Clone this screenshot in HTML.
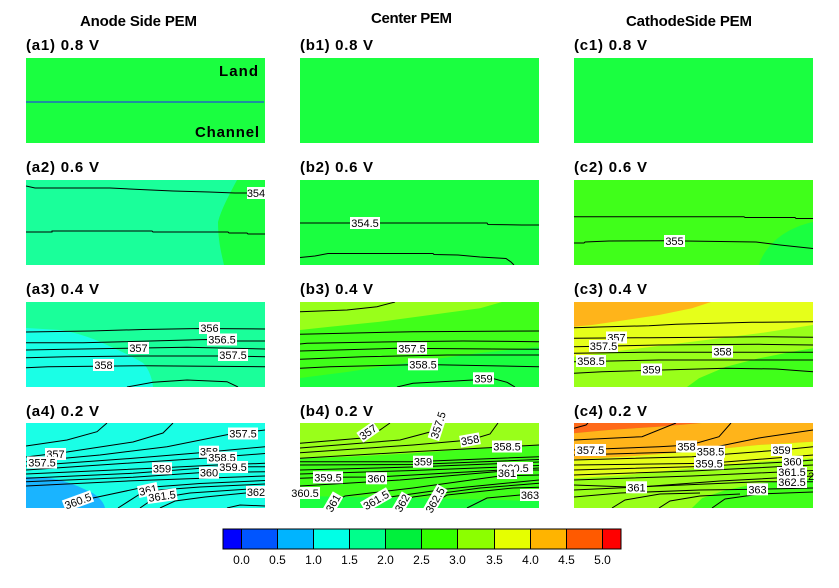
<!DOCTYPE html>
<html><head><meta charset="utf-8"><style>
html,body{margin:0;padding:0;background:#fff;}
svg{display:block;font-family:"Liberation Sans",Arial,sans-serif;}
.t{font-weight:bold;font-size:15px;fill:#000;}
.pl{font-weight:bold;font-size:15px;fill:#000;}
.ln{fill:none;stroke:#000;stroke-width:1;}
.lb{font-size:11px;fill:#000;text-anchor:middle;}
.cb{font-size:12px;fill:#000;text-anchor:middle;}
</style></head><body>
<svg width="839" height="588" viewBox="0 0 839 588" xmlns="http://www.w3.org/2000/svg">
<defs>
<clipPath id="ca2"><rect x="26" y="180" width="239" height="85"/></clipPath>
<clipPath id="cb2"><rect x="300" y="180" width="239" height="85"/></clipPath>
<clipPath id="cc2"><rect x="574" y="180" width="239" height="85"/></clipPath>
<clipPath id="ca3"><rect x="26" y="302" width="239" height="85"/></clipPath>
<clipPath id="cb3"><rect x="300" y="302" width="239" height="85"/></clipPath>
<clipPath id="cc3"><rect x="574" y="302" width="239" height="85"/></clipPath>
<clipPath id="ca4"><rect x="26" y="423" width="239" height="85"/></clipPath>
<clipPath id="cb4"><rect x="300" y="423" width="239" height="85"/></clipPath>
<clipPath id="cc4"><rect x="574" y="423" width="239" height="85"/></clipPath>
</defs>

<!-- Titles -->
<text class="t" x="80" y="26" textLength="117" lengthAdjust="spacing">Anode Side PEM</text>
<text class="t" x="371" y="23" textLength="81" lengthAdjust="spacing">Center PEM</text>
<text class="t" x="626" y="26" textLength="126" lengthAdjust="spacing">CathodeSide PEM</text>

<!-- Row 1 -->
<text class="pl" x="26" y="50" textLength="73" lengthAdjust="spacing">(a1) 0.8 V</text>
<text class="pl" x="300" y="50" textLength="73" lengthAdjust="spacing">(b1) 0.8 V</text>
<text class="pl" x="574" y="50" textLength="73" lengthAdjust="spacing">(c1) 0.8 V</text>
<rect x="26" y="58" width="239" height="85" fill="#1aff40"/>
<line x1="26" y1="102" x2="264" y2="102" stroke="#2020ff" stroke-width="1"/>
<text class="pl" x="219" y="76" font-size="16" textLength="39" lengthAdjust="spacing">Land</text>
<text class="pl" x="195" y="137" font-size="16" textLength="64" lengthAdjust="spacing">Channel</text>
<rect x="300" y="58" width="239" height="85" fill="#1aff40"/>
<rect x="574" y="58" width="239" height="85" fill="#1aff40"/>

<!-- Row 2 -->
<text class="pl" x="26" y="172" textLength="73" lengthAdjust="spacing">(a2) 0.6 V</text>
<text class="pl" x="300" y="172" textLength="73" lengthAdjust="spacing">(b2) 0.6 V</text>
<text class="pl" x="574" y="172" textLength="73" lengthAdjust="spacing">(c2) 0.6 V</text>

<g clip-path="url(#ca2)">
<rect x="26" y="180" width="239" height="85" fill="#1aff9a"/>
<path d="M237,180 L265,180 L265,265 L224,265 C221,252 218,240 218,222 C221,210 229,195 237,180 Z" fill="#1aff40"/>
<path class="ln" d="M26,186 L35,188 L110,188 L140,189.5 L173,191 L209,192 L235,193 L265,193"/>
<path class="ln" d="M26,232 L52,232 L52,231 L152,231 L153,232 L228,232 L229,233 L247,233 L248,234 L265,234"/>
</g>
<rect x="247" y="187" width="18" height="12" fill="#fff"/><text class="lb" x="256" y="197">354</text>

<g clip-path="url(#cb2)">
<rect x="300" y="180" width="239" height="85" fill="#1aff40"/>
<path class="ln" d="M300,223 L487,223 L488,224.5 L522,225 L539,225"/>
<path class="ln" d="M300,257.5 L315,256 L328,253.5 L433,253.5 L434,254.5 L458,255 L480,257 L506,258.5 L511,262 L514,265"/>
</g>
<rect x="350" y="217" width="30" height="12" fill="#fff"/><text class="lb" x="365" y="227">354.5</text>

<g clip-path="url(#cc2)">
<rect x="574" y="180" width="239" height="85" fill="#40ff1a"/>
<path d="M759,265 C765,245 785,228 813,222 L813,265 Z" fill="#1aff40"/>
<path class="ln" d="M574,216.7 L744,216.7 L745,217.5 L795,217.5 L796,218.5 L813,218.5"/>
<path class="ln" d="M574,243 L584,243 L585,242 L609,241 L664,240.7 L685,241 L756,242 L780,245 L813,248.5"/>
</g>
<rect x="664" y="235" width="21" height="12" fill="#fff"/><text class="lb" x="674.5" y="245">355</text>

<!-- Row 3 -->
<text class="pl" x="26" y="294" textLength="73" lengthAdjust="spacing">(a3) 0.4 V</text>
<text class="pl" x="300" y="294" textLength="73" lengthAdjust="spacing">(b3) 0.4 V</text>
<text class="pl" x="574" y="294" textLength="73" lengthAdjust="spacing">(c3) 0.4 V</text>

<g clip-path="url(#ca3)">
<rect x="26" y="302" width="239" height="85" fill="#1aff9a"/>
<path d="M26,328 L60,330 C75,332 95,339 107,345 C118,350 132,356 143,363 C149,369 152,378 153,387 L26,387 Z" fill="#1affe6"/>
<path class="ln" d="M26,332 L90,331 L143,329.5 L200,328.5 L265,329"/>
<path class="ln" d="M26,342.7 L83,342.7 L123,341.7 L207,339.5 L237,341 L265,341"/>
<path class="ln" d="M26,350 L67,349.3 L127,348.3 L187,347.3 L265,349"/>
<path class="ln" d="M26,357.7 L67,356.7 L143,356 L217,356 L265,356.7"/>
<path class="ln" d="M26,367.7 L48,366.7 L143,365.7 L265,366.7"/>
<path class="ln" d="M127,387 L153,382.3 L187,380 L227,381.7 L238,387"/>
</g>
<rect x="199" y="322" width="21" height="12" fill="#fff"/><text class="lb" x="209.5" y="332">356</text>
<rect x="207" y="333.5" width="30" height="12" fill="#fff"/><text class="lb" x="222" y="343.5">356.5</text>
<rect x="128" y="342" width="21" height="12" fill="#fff"/><text class="lb" x="138.5" y="352">357</text>
<rect x="218" y="349" width="30" height="12" fill="#fff"/><text class="lb" x="233" y="359">357.5</text>
<rect x="93" y="359" width="21" height="12" fill="#fff"/><text class="lb" x="103.5" y="369">358</text>

<g clip-path="url(#cb3)">
<rect x="300" y="302" width="239" height="85" fill="#40ff1a"/>
<path d="M300,302 L502,302 L480,308.3 L430,315 L380,321.7 L330,326.7 L300,330 Z" fill="#99ff1a"/>
<path d="M300,378 L347,372 L413,362 L480,353 L539,347 L539,387 L300,387 Z" fill="#1aff40"/>
<path class="ln" d="M300,311.7 L347,310 L377,306.7 L395,302"/>
<path class="ln" d="M300,334.3 L413,331.7 L539,331"/>
<path class="ln" d="M300,344 L307,343.3 L397,341.7 L463,341 L539,341.7"/>
<path class="ln" d="M300,351 L397,348.3 L539,349.3"/>
<path class="ln" d="M300,359.3 L363,356.7 L447,355 L539,355"/>
<path class="ln" d="M300,368.3 L330,366.7 L423,364.5 L539,366.7"/>
<path class="ln" d="M397,387 L413,383.3 L473,380 L493,378.5 L507,382.3 L515,387"/>
</g>
<rect x="397" y="342.3" width="30" height="12" fill="#fff"/><text class="lb" x="412" y="352.3">357.5</text>
<rect x="408" y="358.3" width="30" height="12" fill="#fff"/><text class="lb" x="423" y="368.3">358.5</text>
<rect x="473" y="372.3" width="21" height="12" fill="#fff"/><text class="lb" x="483.5" y="382.3">359</text>

<g clip-path="url(#cc3)">
<rect x="574" y="302" width="239" height="85" fill="#99ff1a"/>
<path d="M711,302 L813,302 L813,325 L759,333.3 L692,341.7 L626,350 L574,356.7 L574,326.7 Z" fill="#e6ff1a"/>
<path d="M574,302 L711,302 L692,308.3 L659,315 L626,320 L592,325 L574,326.7 Z" fill="#ffb41a"/>
<path d="M687,387 L699,378.3 L726,366.7 L759,358.3 L792,351.7 L813,348.3 L813,387 Z" fill="#40ff1a"/>
<path class="ln" d="M574,327.7 L599,327 L649,325.7 L676,324.3 L752,322.3 L813,321.7"/>
<path class="ln" d="M574,338.3 L649,337.7 L709,337.3 L766,336.7 L813,337.3"/>
<path class="ln" d="M574,346.7 L659,345 L759,344.3 L813,345"/>
<path class="ln" d="M574,353.3 L642,352.3 L813,352.3"/>
<path class="ln" d="M574,361.7 L659,360 L813,360"/>
<path class="ln" d="M574,373.3 L602,371.7 L726,368.3 L776,369 L813,371.7"/>
</g>
<rect x="606" y="331.5" width="21" height="12" fill="#fff"/><text class="lb" x="616.5" y="341.5">357</text>
<rect x="589" y="340" width="29" height="12" fill="#fff"/><text class="lb" x="603.5" y="350">357.5</text>
<rect x="712" y="345.7" width="21" height="12" fill="#fff"/><text class="lb" x="722.5" y="355.7">358</text>
<rect x="576" y="355" width="30" height="12" fill="#fff"/><text class="lb" x="591" y="365">358.5</text>
<rect x="641" y="363.5" width="21" height="12" fill="#fff"/><text class="lb" x="651.5" y="373.5">359</text>

<!-- Row 4 -->
<text class="pl" x="26" y="416" textLength="73" lengthAdjust="spacing">(a4) 0.2 V</text>
<text class="pl" x="300" y="416" textLength="73" lengthAdjust="spacing">(b4) 0.2 V</text>
<text class="pl" x="574" y="416" textLength="73" lengthAdjust="spacing">(c4) 0.2 V</text>

<g clip-path="url(#ca4)">
<rect x="26" y="423" width="239" height="85" fill="#1affe6"/>
<path d="M26,476.7 L50,478.3 C65,480 80,487 93,493.3 C100,498 104,503 105,508 L26,508 Z" fill="#1ab4ff"/>
<path class="ln" d="M107,423 L97,431.7 L67,440 L26,446"/>
<path class="ln" d="M173,423 L163,433 L133,442 L100,447 L67,452 L26,457"/>
<path class="ln" d="M26,461.7 L100,455 L167,446.7 L228,434.5 L265,430"/>
<path class="ln" d="M26,466 L133,458.3 L200,452.7 L265,446.7"/>
<path class="ln" d="M26,470 L100,465 L207,458 L265,453.5"/>
<path class="ln" d="M26,474 L152,468.3 L217,465 L265,463.3"/>
<path class="ln" d="M26,478.3 L133,473.3 L218,467 L265,466.7"/>
<path class="ln" d="M26,481.7 L133,477.3 L199,472.7 L265,471.7"/>
<path class="ln" d="M26,486 L133,480.7 L265,476"/>
<path class="ln" d="M68,508 L93,498 L140,488 L200,483.5 L265,480.5"/>
<path class="ln" d="M118,508 L140,494 L160,490 L200,487 L265,484"/>
<path class="ln" d="M140,508 L153,499 L190,493 L265,488"/>
<path class="ln" d="M160,508 L175,501 L205,497 L246,493 L265,492"/>
<path class="ln" d="M227,508 L240,505 L265,506"/>
</g>
<rect x="45" y="448" width="21" height="12" fill="#fff"/><text class="lb" x="55.5" y="458">357</text>
<rect x="27" y="456.5" width="30" height="12" fill="#fff"/><text class="lb" x="42" y="466.5">357.5</text>
<rect x="228" y="427.5" width="30" height="12" fill="#fff"/><text class="lb" x="243" y="437.5">357.5</text>
<rect x="199" y="445.7" width="20" height="12" fill="#fff"/><text class="lb" x="209" y="455.7">358</text>
<rect x="207" y="451.7" width="30" height="12" fill="#fff"/><text class="lb" x="222" y="461.7">358.5</text>
<rect x="152" y="462.3" width="20" height="12" fill="#fff"/><text class="lb" x="162" y="472.3">359</text>
<rect x="218" y="461" width="30" height="12" fill="#fff"/><text class="lb" x="233" y="471">359.5</text>
<rect x="199" y="466.7" width="20" height="12" fill="#fff"/><text class="lb" x="209" y="476.7">360</text>
<g transform="translate(78,501) rotate(-20)"><rect x="-15" y="-6" width="30" height="12" fill="#fff"/><text class="lb" x="0" y="4">360.5</text></g>
<g transform="translate(148,490) rotate(-12)"><rect x="-10" y="-6" width="20" height="12" fill="#fff"/><text class="lb" x="0" y="4">361</text></g>
<g transform="translate(162,496) rotate(-8)"><rect x="-15" y="-6" width="30" height="12" fill="#fff"/><text class="lb" x="0" y="4">361.5</text></g>
<rect x="246" y="486" width="20" height="12" fill="#fff"/><text class="lb" x="256" y="496">362</text>

<g clip-path="url(#cb4)">
<rect x="300" y="423" width="239" height="85" fill="#40ff1a"/>
<path d="M300,423 L539,423 L539,445 L480,448.3 L413,453.3 L347,456.7 L300,458.3 Z" fill="#99ff1a"/>
<path d="M300,496 L413,498 L539,501 L539,508 L300,508 Z" fill="#1aff40"/>
<path class="ln" d="M300,443.3 L360,438.3 L380,430 L390,423"/>
<path class="ln" d="M300,448 L400,440 L430,432 L440,423"/>
<path class="ln" d="M300,452.7 L413,445 L470,440 L490,434 L498,423"/>
<path class="ln" d="M300,458.3 L413,451.7 L507,446.7 L539,445"/>
<path class="ln" d="M300,461.7 L413,461.7 L539,456.7"/>
<path class="ln" d="M300,465 L413,464.5 L539,459.5"/>
<path class="ln" d="M300,470 L413,467 L539,462"/>
<path class="ln" d="M300,474 L413,470.5 L539,465.5"/>
<path class="ln" d="M300,478.3 L328,477.3 L376,477 L539,468"/>
<path class="ln" d="M300,486 L400,480 L517,470 L539,470"/>
<path class="ln" d="M325,508 L345,496 L413,488 L500,476 L539,475"/>
<path class="ln" d="M363,508 L390,497 L447,489 L539,480"/>
<path class="ln" d="M395,508 L413,497 L480,488 L539,483.3"/>
<path class="ln" d="M427,508 L447,495 L513,488 L539,487.3"/>
<path class="ln" d="M467,508 L487,498 L520,495 L539,495"/>
</g>
<g transform="translate(368,432) rotate(-35)"><rect x="-10" y="-6" width="20" height="12" fill="#fff"/><text class="lb" x="0" y="4">357</text></g>
<g transform="translate(438,425) rotate(-72)"><rect x="-15" y="-6" width="30" height="12" fill="#fff"/><text class="lb" x="0" y="4">357.5</text></g>
<g transform="translate(470,440) rotate(-10)"><rect x="-10" y="-6" width="20" height="12" fill="#fff"/><text class="lb" x="0" y="4">358</text></g>
<rect x="492" y="440.5" width="30" height="12" fill="#fff"/><text class="lb" x="507" y="450.5">358.5</text>
<rect x="413" y="455.7" width="20" height="12" fill="#fff"/><text class="lb" x="423" y="465.7">359</text>
<rect x="313" y="471.3" width="30" height="12" fill="#fff"/><text class="lb" x="328" y="481.3">359.5</text>
<rect x="366" y="472.3" width="21" height="12" fill="#fff"/><text class="lb" x="376.5" y="482.3">360</text>
<rect x="290" y="487" width="30" height="12" fill="#fff"/><text class="lb" x="305" y="497">360.5</text>
<rect x="497" y="462" width="36" height="12" fill="#fff"/><text class="lb" x="515" y="472">360.5</text>
<rect x="497" y="467" width="20" height="12" fill="#fff"/><text class="lb" x="507" y="477">361</text>
<g transform="translate(333,503) rotate(-60)"><rect x="-10" y="-6" width="20" height="12" fill="#fff"/><text class="lb" x="0" y="4">361</text></g>
<g transform="translate(376,500) rotate(-30)"><rect x="-15" y="-6" width="30" height="12" fill="#fff"/><text class="lb" x="0" y="4">361.5</text></g>
<g transform="translate(402,503) rotate(-60)"><rect x="-10" y="-6" width="20" height="12" fill="#fff"/><text class="lb" x="0" y="4">362</text></g>
<g transform="translate(435,500) rotate(-60)"><rect x="-15" y="-6" width="30" height="12" fill="#fff"/><text class="lb" x="0" y="4">362.5</text></g>
<rect x="520" y="489" width="20" height="12" fill="#fff"/><text class="lb" x="530" y="499">363</text>

<g clip-path="url(#cc4)">
<rect x="574" y="423" width="239" height="85" fill="#99ff1a"/>
<path d="M574,433.3 L609,430 L659,426.7 L702,423 L813,423 L813,441.7 L759,445 L692,451.7 L626,456.7 L574,459.3 Z" fill="#ffb41a"/>
<path d="M574,423 L702,423 L659,426.7 L609,430 L574,433.3 Z" fill="#ff6a1a"/>
<path d="M574,459.3 L626,456.7 L692,451.7 L759,445 L813,441.7 L813,458.3 L759,461.7 L692,468.3 L626,475 L574,478.3 Z" fill="#e6ff1a"/>
<path d="M692,508 L702,498.3 L726,490 L759,483.3 L792,480 L813,478.3 L813,508 Z" fill="#40ff1a"/>
<path class="ln" d="M574,428.3 L586,425 L588,423"/>
<path class="ln" d="M574,440 L642,436.7 L676,423"/>
<path class="ln" d="M574,450 L659,446.7 L690,445 L719,436.7 L731,423"/>
<path class="ln" d="M574,455 L692,451.7 L759,438 L813,430"/>
<path class="ln" d="M574,460 L692,456.7 L781,450 L813,446.7"/>
<path class="ln" d="M574,465 L709,463.3 L813,455"/>
<path class="ln" d="M574,470 L692,466.7 L792,461.7 L813,460"/>
<path class="ln" d="M574,475 L692,471 L813,465"/>
<path class="ln" d="M574,480 L692,476 L813,470.5"/>
<path class="ln" d="M574,485 L636,487.3 L720,481 L813,476"/>
<path class="ln" d="M574,490 L659,486 L759,481.7 L813,481.7"/>
<path class="ln" d="M574,497 L620,493 L700,490 L757,489.3 L813,488"/>
<path class="ln" d="M612,508 L625,500 L660,494 L700,493"/>
<path class="ln" d="M659,508 L670,501 L700,496 L740,494"/>
<path class="ln" d="M712,508 L725,499 L760,494 L813,492"/>
</g>
<rect x="575" y="444" width="31" height="12" fill="#fff"/><text class="lb" x="590.5" y="454">357.5</text>
<rect x="676" y="440.5" width="21" height="12" fill="#fff"/><text class="lb" x="686.5" y="450.5">358</text>
<rect x="696" y="445.7" width="29" height="12" fill="#fff"/><text class="lb" x="710.5" y="455.7">358.5</text>
<rect x="771" y="444" width="21" height="12" fill="#fff"/><text class="lb" x="781.5" y="454">359</text>
<rect x="694" y="457.3" width="30" height="12" fill="#fff"/><text class="lb" x="709" y="467.3">359.5</text>
<rect x="782" y="455.7" width="21" height="12" fill="#fff"/><text class="lb" x="792.5" y="465.7">360</text>
<rect x="777" y="467" width="30" height="11" fill="#fff"/><text class="lb" x="792" y="476">361.5</text>
<text class="lb" x="811" y="480">2</text>
<rect x="777" y="476" width="30" height="12" fill="#fff"/><text class="lb" x="792" y="486">362.5</text>
<rect x="626" y="481.3" width="21" height="12" fill="#fff"/><text class="lb" x="636.5" y="491.3">361</text>
<rect x="747" y="483.3" width="21" height="12" fill="#fff"/><text class="lb" x="757.5" y="493.3">363</text>

<!-- Colorbar -->
<g stroke="#000" stroke-width="1">
<rect x="223" y="529" width="18.5" height="20" fill="#0000ff"/>
<rect x="241.5" y="529" width="36" height="20" fill="#0055ff"/>
<rect x="277.5" y="529" width="36" height="20" fill="#00b4ff"/>
<rect x="313.5" y="529" width="36" height="20" fill="#00ffe6"/>
<rect x="349.5" y="529" width="36" height="20" fill="#00ff8c"/>
<rect x="385.5" y="529" width="36" height="20" fill="#00f03c"/>
<rect x="421.5" y="529" width="36" height="20" fill="#33ff00"/>
<rect x="457.5" y="529" width="37" height="20" fill="#8cff00"/>
<rect x="494.5" y="529" width="36" height="20" fill="#e6ff00"/>
<rect x="530.5" y="529" width="36" height="20" fill="#ffb400"/>
<rect x="566.5" y="529" width="36" height="20" fill="#ff5a00"/>
<rect x="602.5" y="529" width="18.5" height="20" fill="#ff0000"/>
</g>
<g class="cb">
<text class="cb" x="241.5" y="564">0.0</text>
<text class="cb" x="277.5" y="564">0.5</text>
<text class="cb" x="313.5" y="564">1.0</text>
<text class="cb" x="349.5" y="564">1.5</text>
<text class="cb" x="385.5" y="564">2.0</text>
<text class="cb" x="421.5" y="564">2.5</text>
<text class="cb" x="457.5" y="564">3.0</text>
<text class="cb" x="494.5" y="564">3.5</text>
<text class="cb" x="530.5" y="564">4.0</text>
<text class="cb" x="566.5" y="564">4.5</text>
<text class="cb" x="602.5" y="564">5.0</text>
</g>
</svg>
</body></html>
